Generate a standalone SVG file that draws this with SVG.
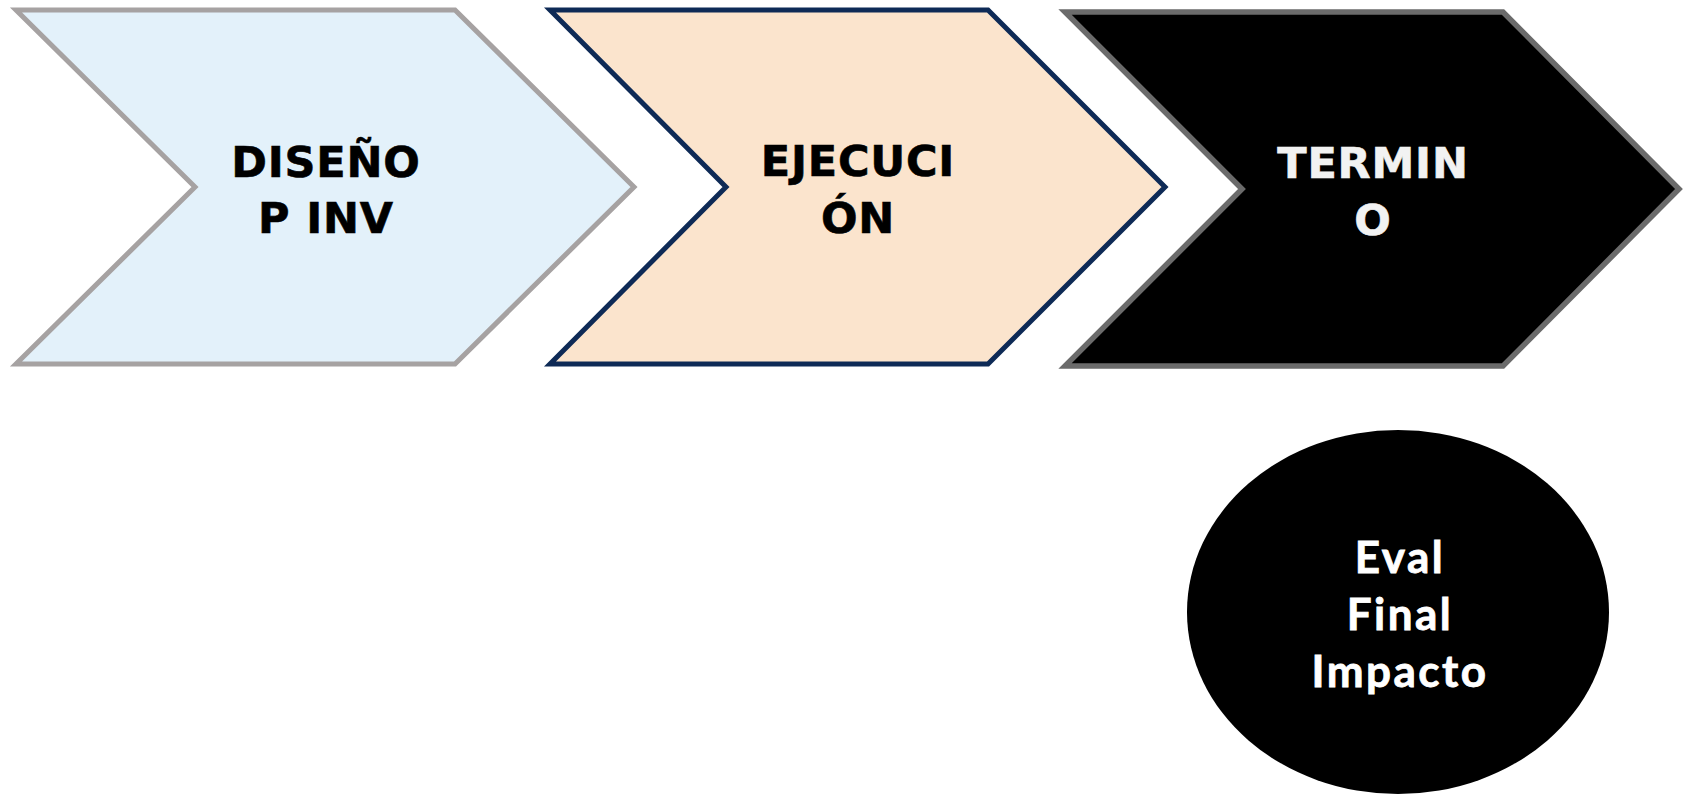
<svg xmlns="http://www.w3.org/2000/svg" width="1684" height="794" viewBox="0 0 1684 794">
<style>
.lbl{font-family:"DejaVu Sans","Liberation Sans",sans-serif;font-weight:bold;font-size:43px;text-anchor:middle;letter-spacing:0.8px;stroke-width:0.6px}
.dark{fill:#000000;stroke:#000000}
.light{fill:#f2f2f2;stroke:#f2f2f2}
.ell{font-family:Lato,"Open Sans",sans-serif;font-weight:bold;font-size:44px;text-anchor:middle;fill:#ffffff;stroke:#ffffff;stroke-width:0.8px;letter-spacing:2.5px}
</style>
<rect width="1684" height="794" fill="#ffffff"/>
<g id="connectors"></g>
<g id="node-diseno">
<polygon points="16,10 455,10 634,187 455,364 16,364 195,187" fill="#e3f1fa" stroke="#a6a2a2" stroke-width="5"/>
<text class="lbl dark" x="326" y="177">DISEÑO</text>
<text class="lbl dark" x="326" y="233">P INV</text>
</g>
<g id="node-ejecucion">
<polygon points="550,10 988,10 1165,187 988,364 550,364 726,187" fill="#fbe4cd" stroke="#0e2a56" stroke-width="5"/>
<text class="lbl dark" x="858" y="176">EJECUCI</text>
<text class="lbl dark" x="858" y="233">ÓN</text>
</g>
<g id="node-termino">
<polygon points="1065,12 1503,12 1679,189 1503,366 1065,366 1242,189" fill="#000000" stroke="#6b6b6b" stroke-width="5.5"/>
<text class="lbl light" x="1373" y="178">TERMIN</text>
<text class="lbl light" x="1373" y="235">O</text>
</g>
<g id="node-eval">
<ellipse cx="1398" cy="612" rx="211" ry="182" fill="#000000"/>
<text class="ell" x="1400" y="573">Eval</text>
<text class="ell" x="1400" y="630">Final</text>
<text class="ell" x="1400" y="687">Impacto</text>
</g>
</svg>
